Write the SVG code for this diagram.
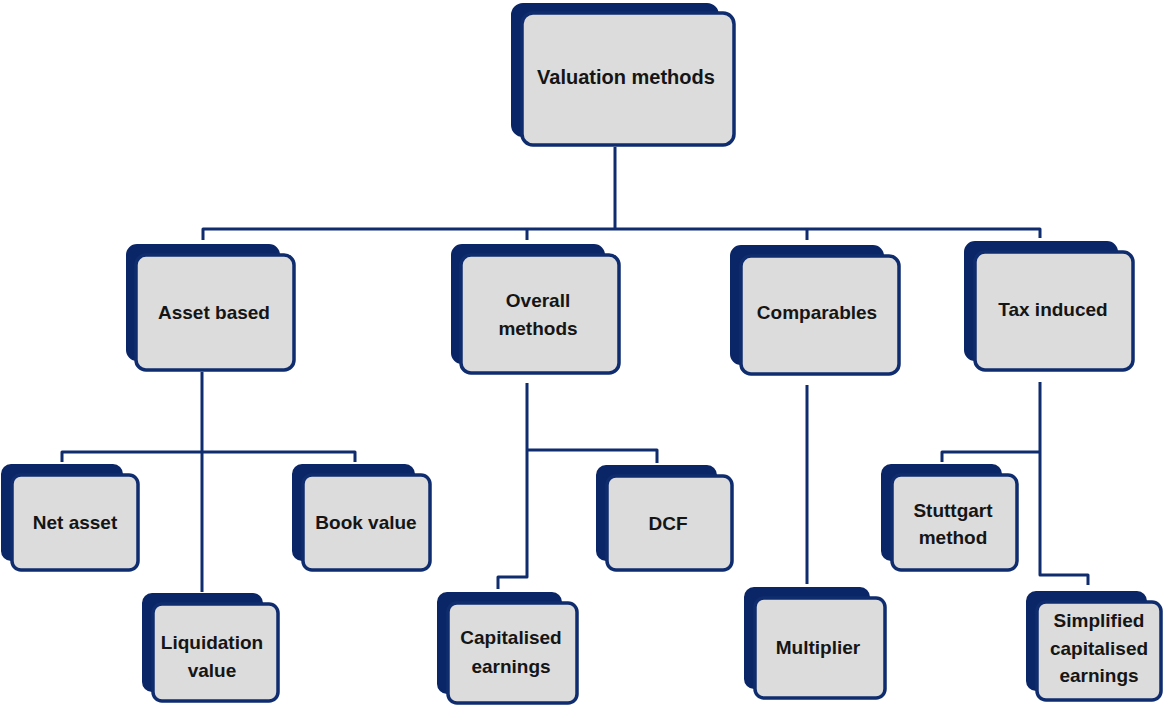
<svg xmlns="http://www.w3.org/2000/svg" width="1164" height="708" viewBox="0 0 1164 708">
  <style>
    .back { fill: #0b2667; stroke: #0b2667; stroke-width: 2; }
    .front { fill: #dcdcdc; stroke: #0f2d6e; stroke-width: 3.5; }
    .lbl { font-family: "Liberation Sans", Arial, sans-serif; font-weight: bold; font-size: 19px; fill: #151515; text-anchor: middle; dominant-baseline: central; }
    .top { font-size: 20px; }
    .conn { fill: none; stroke: #0f2d6e; stroke-width: 3; stroke-linejoin: round; stroke-linecap: butt; }
  </style>

  <!-- connectors -->
  <g id="connectors">
    <path class="conn" d="M615,147 V229"/>
    <path class="conn" d="M203,240 V229 H1040 V238"/>
    <path class="conn" d="M527,229 V240"/>
    <path class="conn" d="M807,229 V240"/>
    <!-- asset based -->
    <path class="conn" d="M202,372 V592"/>
    <path class="conn" d="M62,462 V452 H355 V462"/>
    <!-- overall methods -->
    <path class="conn" d="M527,383 V577 H498 V589"/>
    <path class="conn" d="M527,450 H657 V463"/>
    <!-- comparables -->
    <path class="conn" d="M807,385 V584"/>
    <!-- tax induced -->
    <path class="conn" d="M1040,382 V575 H1088 V585"/>
    <path class="conn" d="M1040,452 H942 V462"/>
  </g>

  <g id="valuation-methods">
    <rect class="back" x="512" y="4" width="206" height="132" rx="11"/>
    <rect class="front" x="522" y="13" width="212" height="132" rx="11"/>
    <text class="lbl top" x="626" y="77">Valuation methods</text>
  </g>

  <g id="asset-based">
    <rect class="back" x="127" y="245" width="152" height="115" rx="10"/>
    <rect class="front" x="136" y="255" width="158" height="115" rx="10"/>
    <text class="lbl" x="214" y="312">Asset based</text>
  </g>

  <g id="overall-methods">
    <rect class="back" x="452" y="245" width="152" height="118" rx="10"/>
    <rect class="front" x="461" y="255" width="158" height="118" rx="10"/>
    <text class="lbl" x="538" y="300">Overall</text>
    <text class="lbl" x="538" y="328">methods</text>
  </g>

  <g id="comparables">
    <rect class="back" x="731" y="246" width="152" height="118" rx="10"/>
    <rect class="front" x="741" y="256" width="158" height="118" rx="10"/>
    <text class="lbl" x="817" y="312">Comparables</text>
  </g>

  <g id="tax-induced">
    <rect class="back" x="965" y="242" width="152" height="118" rx="10"/>
    <rect class="front" x="975" y="252" width="158" height="118" rx="10"/>
    <text class="lbl" x="1053" y="309">Tax induced</text>
  </g>

  <g id="net-asset">
    <rect class="back" x="2" y="465" width="120" height="95" rx="9"/>
    <rect class="front" x="12" y="475" width="126" height="95" rx="9"/>
    <text class="lbl" x="75" y="522">Net asset</text>
  </g>

  <g id="book-value">
    <rect class="back" x="293" y="465" width="121" height="95" rx="9"/>
    <rect class="front" x="303" y="475" width="127" height="95" rx="9"/>
    <text class="lbl" x="366" y="522">Book value</text>
  </g>

  <g id="liquidation-value">
    <rect class="back" x="143" y="594" width="119" height="97" rx="9"/>
    <rect class="front" x="153" y="604" width="125" height="97" rx="9"/>
    <text class="lbl" x="212" y="642">Liquidation</text>
    <text class="lbl" x="212" y="670">value</text>
  </g>

  <g id="dcf">
    <rect class="back" x="597" y="466" width="119" height="94" rx="9"/>
    <rect class="front" x="607" y="476" width="125" height="94" rx="9"/>
    <text class="lbl" x="668" y="523">DCF</text>
  </g>

  <g id="capitalised-earnings">
    <rect class="back" x="438" y="593" width="123" height="100" rx="9"/>
    <rect class="front" x="448" y="603" width="129" height="100" rx="9"/>
    <text class="lbl" x="511" y="637">Capitalised</text>
    <text class="lbl" x="511" y="666">earnings</text>
  </g>

  <g id="multiplier">
    <rect class="back" x="745" y="588" width="124" height="100" rx="9"/>
    <rect class="front" x="755" y="598" width="130" height="100" rx="9"/>
    <text class="lbl" x="818" y="647">Multiplier</text>
  </g>

  <g id="stuttgart-method">
    <rect class="back" x="882" y="465" width="119" height="95" rx="9"/>
    <rect class="front" x="892" y="475" width="125" height="95" rx="9"/>
    <text class="lbl" x="953" y="510">Stuttgart</text>
    <text class="lbl" x="953" y="537">method</text>
  </g>

  <g id="simplified-capitalised-earnings">
    <rect class="back" x="1027" y="592" width="119" height="98" rx="9"/>
    <rect class="front" x="1037" y="602" width="124" height="98" rx="9"/>
    <text class="lbl" x="1099" y="620">Simplified</text>
    <text class="lbl" x="1099" y="648">capitalised</text>
    <text class="lbl" x="1099" y="675">earnings</text>
  </g>
</svg>
